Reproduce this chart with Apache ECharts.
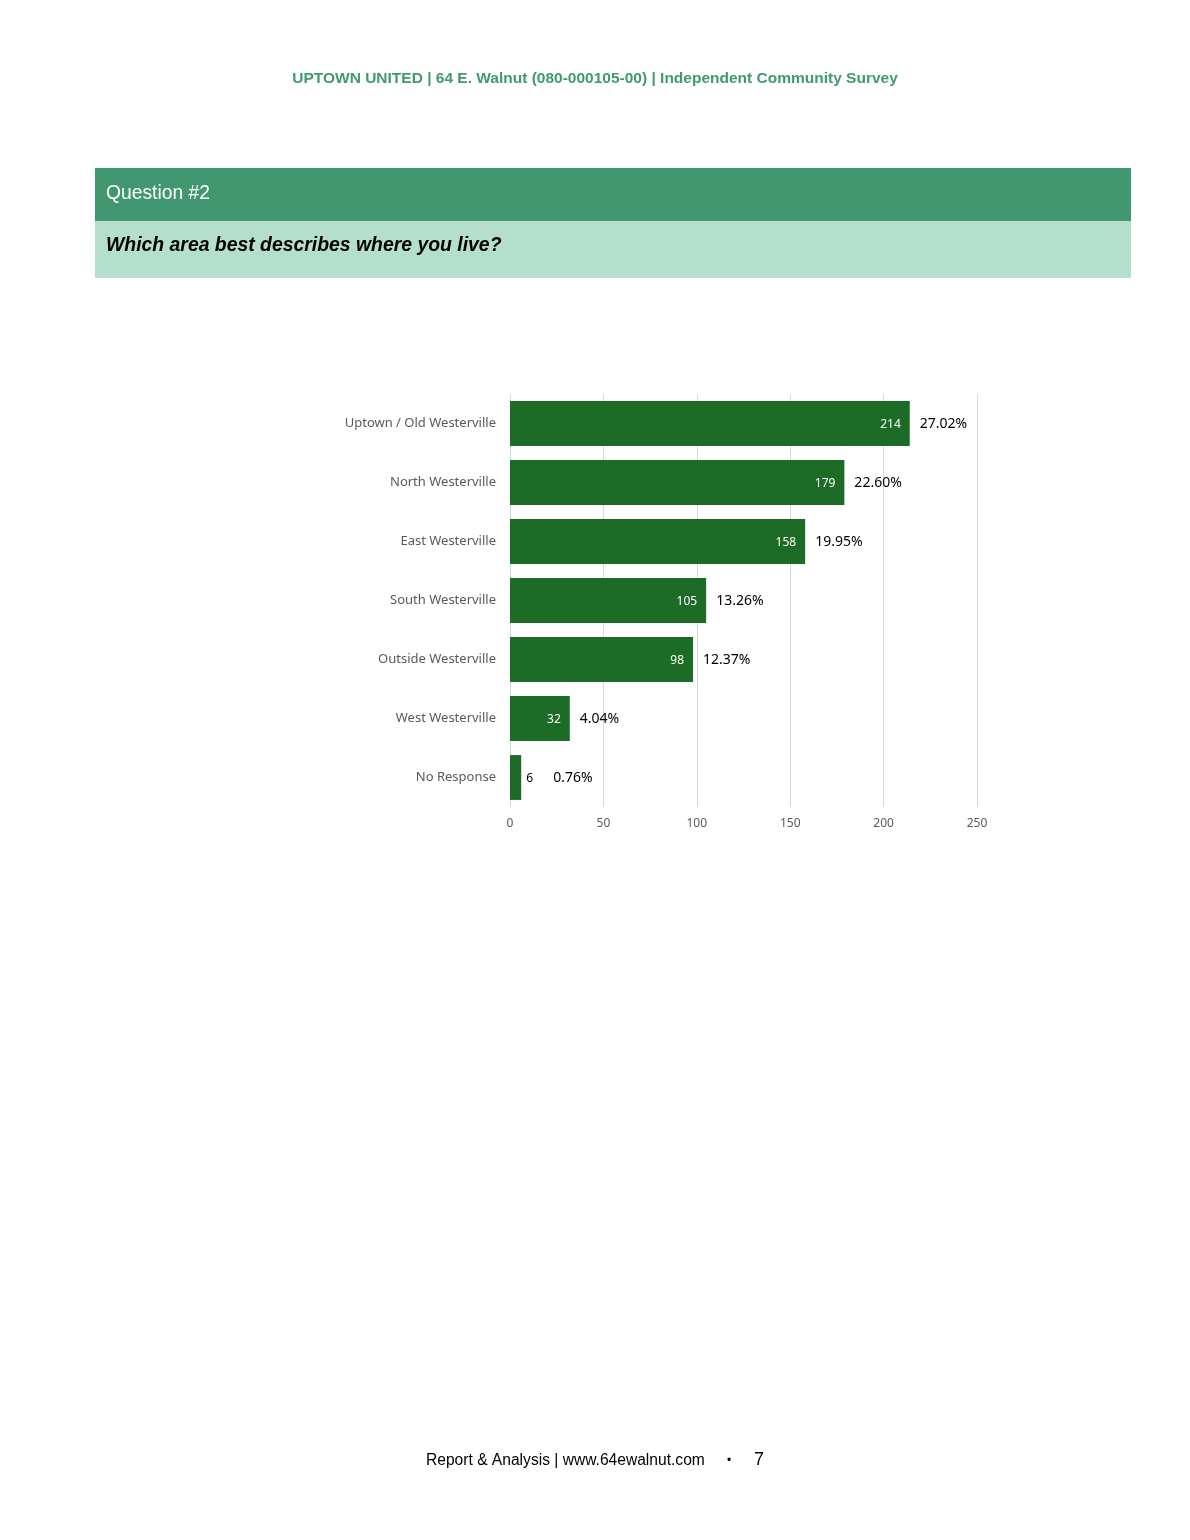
<!DOCTYPE html>
<html>
<head>
<meta charset="utf-8">
<script src="https://cdn.jsdelivr.net/npm/echarts@6/dist/echarts.min.js"></script>
<style>
html,body{margin:0;padding:0;background:#fff;}
#chart{width:1190px;height:1540px;}
</style>
</head>
<body>
<div id="chart"></div>
<script>
const categories = ["Uptown / Old Westerville","North Westerville","East Westerville","South Westerville","Outside Westerville","West Westerville","No Response"];
const counts = [214,179,158,105,98,32,6];
const percents = ["27.02%","22.60%","19.95%","13.26%","12.37%","4.04%","0.76%"];
const xTicks = [0,50,100,150,200,250];

const headerText = "UPTOWN UNITED | 64 E. Walnut (080-000105-00) | Independent Community Survey";
const questionTitle = "Question #2";
const questionText = "Which area best describes where you live?";
const footerText = "Report & Analysis | www.64ewalnut.com";
const pageNumber = "7";

const barColor = "#1c6b26";
const smallThreshold = 15;

const chart = echarts.init(document.getElementById('chart'), null, {renderer:'canvas'});

const valueData = counts.map(v => {
  if (v < smallThreshold) {
    return {value: v, label: {position: 'right', color: '#000', distance: 5}};
  }
  return v;
});
const pctData = counts.map(v => {
  if (v < smallThreshold) {
    return {value: v, label: {distance: 32}};
  }
  return v;
});

const option = {
  animation: false,
  textStyle: {fontFamily: 'Noto Sans'},
  graphic: [
    {type:'text', left:'center', top:71, style:{text:headerText, font:'bold 15.5px "Liberation Sans"', fill:'#3f9a6e'}},
    {type:'rect', shape:{x:95, y:168, width:1036, height:53}, style:{fill:'#41976f'}},
    {type:'rect', shape:{x:95, y:221, width:1036, height:57}, style:{fill:'#b4dfcc'}},
    {type:'text', x:106, y:194, style:{text:questionTitle, font:'19.3px "Liberation Sans"', fill:'#ffffff', verticalAlign:'middle'}},
    {type:'text', x:106, y:246, style:{text:questionText, font:'italic bold 19.4px "Liberation Sans"', fill:'#000000', verticalAlign:'middle'}},
    {type:'text', x:426, y:1461, style:{text:footerText, font:'15.6px "Liberation Sans"', fill:'#000000', verticalAlign:'middle'}},
    {type:'text', x:727, y:1461, style:{text:'\u2022', font:'12px "Liberation Sans"', fill:'#000000', verticalAlign:'middle'}},
    {type:'text', x:754, y:1460, style:{text:pageNumber, font:'18px "Liberation Sans"', fill:'#000000', verticalAlign:'middle'}}
  ],
  grid: {left:510, right:213, top:394, height:413, containLabel:false},
  xAxis: {
    type:'value', min:0, max:250, interval:50,
    axisLine:{show:false}, axisTick:{show:false},
    splitLine:{show:true, lineStyle:{color:'#d9d9d9', width:1}},
    axisLabel:{color:'#595959', fontSize:12, margin:11,
      formatter: v => xTicks.includes(v) ? String(v) : ''}
  },
  yAxis: {
    type:'category', data:categories, inverse:true,
    axisLine:{show:false}, axisTick:{show:false},
    axisLabel:{color:'#595959', fontSize:13, margin:14}
  },
  series: [
    {
      type:'bar', data:valueData, barCategoryGap:'24%',
      itemStyle:{color:barColor},
      label:{show:true, position:'insideRight', distance:9, color:'#ffffff', fontSize:12, offset:[0,1]}
    },
    {
      type:'bar', data:pctData, barGap:'-100%', barCategoryGap:'24%',
      itemStyle:{color:'transparent'}, silent:true, z:1,
      label:{show:true, position:'right', distance:10, color:'#000000', fontSize:14, offset:[0,1]},
      labelLayout: null
    }
  ]
};
option.series[1].label.formatter = p => percents[p.dataIndex];
delete option.series[1].labelLayout;
chart.setOption(option);
</script>
</body>
</html>
